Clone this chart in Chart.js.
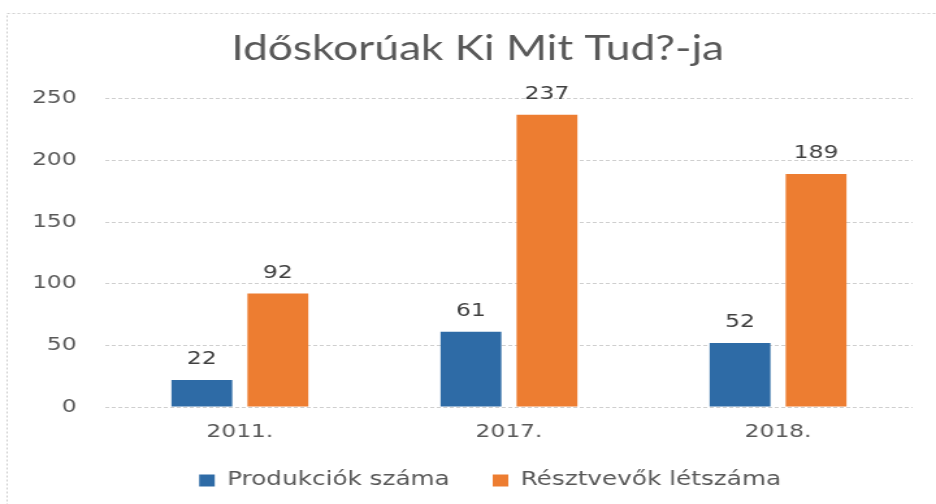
<!DOCTYPE html>
<html>
<head>
<meta charset="utf-8">
<style>
  html, body { margin: 0; padding: 0; background: #fff; overflow: hidden; }
  /* a rajz vízszintesen széthúzva jelenik meg, mint az eredeti diagram */
  #doboz { width: 720px; height: 504px; transform: scaleX(1.3); transform-origin: 0 0; }
</style>
<script src="https://cdn.jsdelivr.net/npm/chart.js@4.4.1/dist/chart.umd.min.js"></script>
</head>
<body>
<div id="doboz"><canvas id="grafikon" width="720" height="504"></canvas></div>
<script>
// ---- adatok ----
const cim = 'Időskorúak Ki Mit Tud?-ja';
const evek = ['2011.', '2017.', '2018.'];
const produkciokSzama = [22, 61, 52];
const resztvevokLetszama = [92, 237, 189];
const yMax = 250;
const yLepes = 50;

const SZURKE = '#595959';
const BETU = '"DejaVu Sans", Verdana, sans-serif';

// keret a diagram körül (jobb és alsó széle kilóg a képből)
const keret = {
  id: 'keret',
  beforeDraw(chart) {
    const { ctx } = chart;
    ctx.save();
    ctx.fillStyle = '#fff';
    ctx.fillRect(0, 0, chart.width, chart.height);
    ctx.strokeStyle = '#d0d0d0';
    ctx.lineWidth = 1;
    ctx.setLineDash([2, 2]);
    ctx.strokeRect(5.5, 13.5, chart.width + 20, chart.height + 20);
    ctx.restore();
  }
};

// a cím és a jelmagyarázat kicsit jobbra (a jelmagyarázat feljebb is) kerül
const elrendezes = {
  id: 'elrendezes',
  afterLayout(chart) {
    const t = chart.titleBlock;
    t.left += 9.5;
    t.right += 9.5;
    const lg = chart.legend;
    lg.top -= 9;
    lg.bottom -= 9;
    lg.left += 19;
    lg.right += 19;
  }
};

// értékcímkék az oszlopok fölött
const ertekCimkek = {
  id: 'ertekCimkek',
  afterDatasetsDraw(chart) {
    const { ctx } = chart;
    ctx.save();
    ctx.font = '18px ' + BETU;
    ctx.fillStyle = '#404040';
    ctx.textAlign = 'center';
    ctx.textBaseline = 'alphabetic';
    chart.data.datasets.forEach((ds, i) => {
      chart.getDatasetMeta(i).data.forEach((oszlop, j) => {
        ctx.fillText(ds.data[j], oszlop.x, oszlop.y - 16);
      });
    });
    ctx.restore();
  }
};

new Chart(document.getElementById('grafikon'), {
  type: 'bar',
  data: {
    labels: evek,
    datasets: [
      { label: 'Produkciók száma', data: produkciokSzama, backgroundColor: '#2E6BA6' },
      { label: 'Résztvevők létszáma', data: resztvevokLetszama, backgroundColor: '#ED7D31' }
    ]
  },
  options: {
    responsive: false,
    animation: false,
    layout: { padding: { left: 14, right: 18, top: 0, bottom: 0 } },
    datasets: { bar: { categoryPercentage: 0.565, barPercentage: 0.8 } },
    plugins: {
      title: {
        display: true,
        text: cim,
        color: SZURKE,
        font: { family: 'Lato', size: 34, weight: 'normal' },
        padding: { top: 29, bottom: 29 }
      },
      legend: {
        position: 'bottom',
        maxHeight: 57,
        labels: {
          color: SZURKE,
          font: { family: BETU, size: 19 },
          boxWidth: 12,
          boxHeight: 12,
          padding: 33
        }
      },
      tooltip: { enabled: false }
    },
    scales: {
      x: {
        grid: { display: false, drawTicks: false },
        border: { display: false },
        ticks: { color: SZURKE, font: { family: BETU, size: 18 }, padding: 15 },
        afterFit(skala) { skala.height = 40; }
      },
      y: {
        min: 0,
        max: yMax,
        grid: { color: '#cfcfcf', drawTicks: false },
        border: { display: false, dash: [3, 2] },
        ticks: { stepSize: yLepes, color: SZURKE, font: { family: BETU, size: 18 }, padding: 22 },
        afterFit(skala) { skala.width = 67; }
      }
    }
  },
  plugins: [keret, elrendezes, ertekCimkek]
});
</script>
</body>
</html>
